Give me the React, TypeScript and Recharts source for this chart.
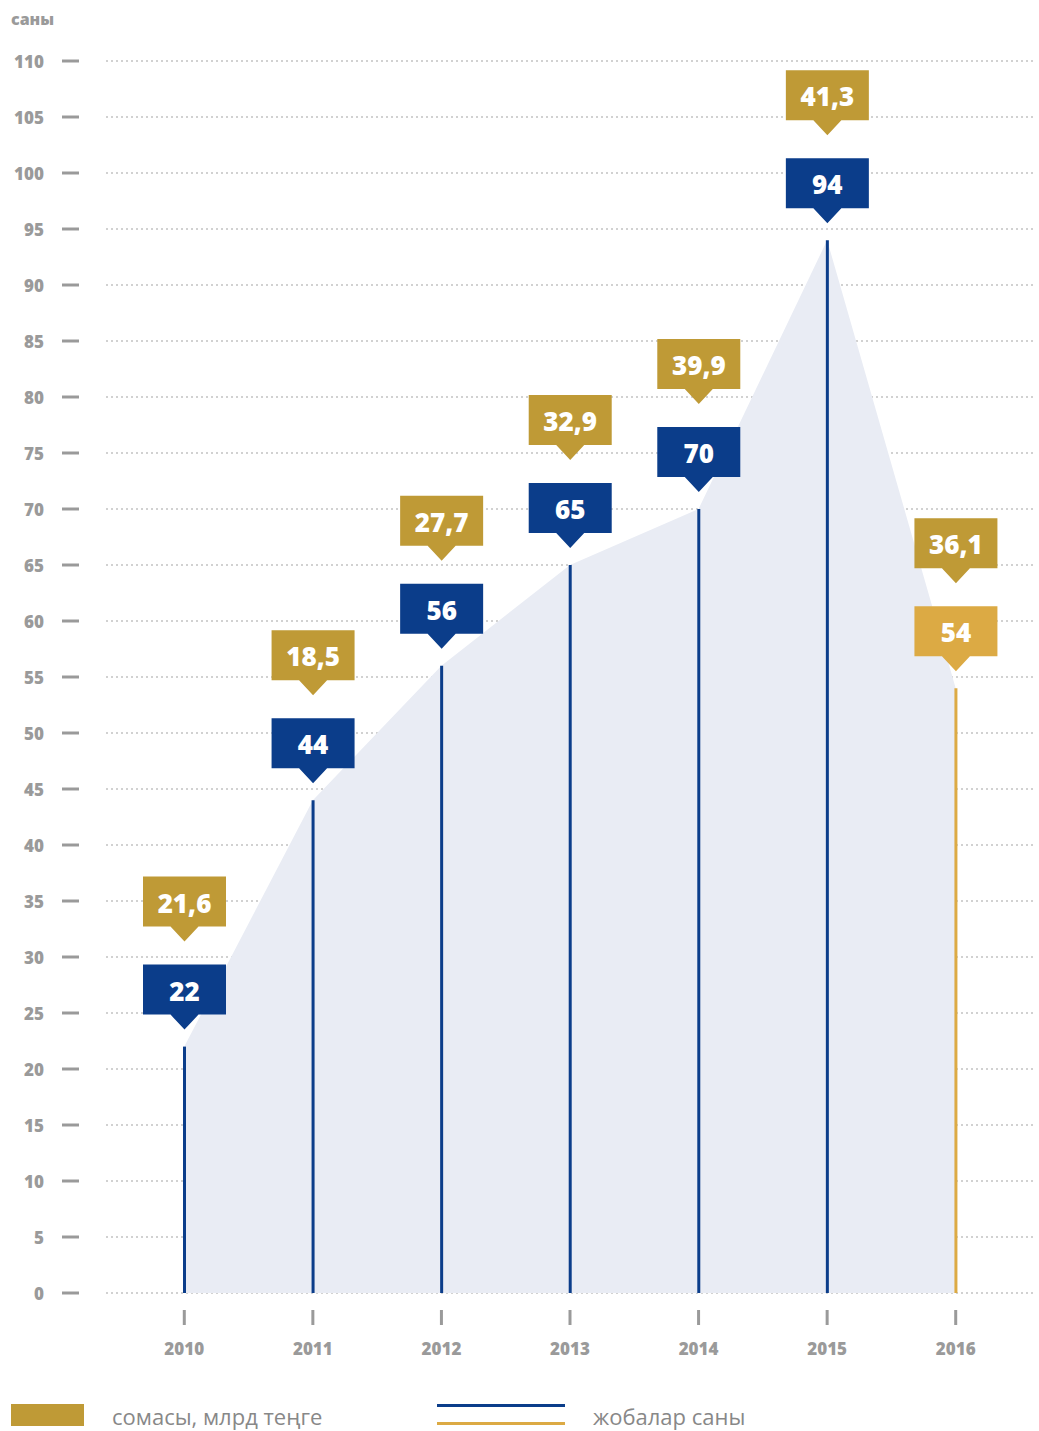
import React from 'react';
import { ComposedChart, Area, Bar, XAxis, YAxis, CartesianGrid, LabelList, Cell } from 'recharts';

const years = ['2010', '2011', '2012', '2013', '2014', '2015', '2016'];
const projects = [22, 44, 56, 65, 70, 94, 54];
const amounts = [21.6, 18.5, 27.7, 32.9, 39.9, 41.3, 36.1];
const yTicks = [0, 5, 10, 15, 20, 25, 30, 35, 40, 45, 50, 55, 60, 65, 70, 75, 80, 85, 90, 95, 100, 105, 110];

const BLUE = '#0b3d8a';
const GOLD = '#bf9a36';
const GOLD_LIGHT = '#dcaa44';
const GRAY = '#9a9a9a';
const FONT = '"Open Sans", sans-serif';
const NARROW = '"Liberation Sans Narrow", "Open Sans", sans-serif';

const data = years.map((y, i) => ({ year: y, projects: projects[i], amount: amounts[i] }));

const fmt = (v: number) => v.toFixed(1).replace('.', ',');

// box with a down-pointing notch, tip at (cx, tipY)
const Flag = ({ cx, tipY, fill, text }: { cx: number; tipY: number; fill: string; text: string }) => {
    const w = 83, h = 50, th = 15, tw = 14;
    const bottom = tipY - th;
    const top = bottom - h;
    const l = cx - w / 2, r = cx + w / 2;
    const pts = `${l},${top} ${r},${top} ${r},${bottom} ${cx + tw},${bottom} ${cx},${tipY} ${cx - tw},${bottom} ${l},${bottom}`;
    return (
        <g>
            <polygon points={pts} fill={fill} />
            <text x={cx} y={top + h / 2 + 1} textAnchor="middle" dominantBaseline="central" fill="#fff"
                style={{ fontFamily: FONT, fontWeight: 800, fontSize: 26 }}>{text}</text>
        </g>
    );
};

const renderFlags = (props: any) => {
    const { x, y, width, index } = props;
    const cx = x + width / 2;
    const last = index === years.length - 1;
    const tip = y - 17;
    return (
        <g>
            <Flag cx={cx} tipY={tip} fill={last ? GOLD_LIGHT : BLUE} text={String(projects[index])} />
            <Flag cx={cx} tipY={tip - 88} fill={GOLD} text={fmt(amounts[index])} />
        </g>
    );
};

const YTick = ({ y, payload }: any) => (
    <g>
        <text x={44} y={y} textAnchor="end" dominantBaseline="central" fill={GRAY}
            style={{ fontFamily: FONT, fontWeight: 800, fontSize: 17 }}>{payload.value}</text>
        <line x1={62} x2={79} y1={y} y2={y} stroke={GRAY} strokeWidth={3} />
    </g>
);

const XTick = ({ x, y, payload }: any) => (
    <g>
        <line x1={x} x2={x} y1={y + 17} y2={y + 32} stroke={GRAY} strokeWidth={3} />
        <text x={x} y={y + 55} textAnchor="middle" dominantBaseline="central" fill={GRAY}
            style={{ fontFamily: FONT, fontWeight: 800, fontSize: 17 }}>{payload.value}</text>
    </g>
);

export default function App() {
    return (
        <div style={{ position: 'absolute', left: 0, top: 0, width: 1039, height: 1431, background: '#fff' }}>
            <div style={{ position: 'absolute', left: 11, top: 8, fontFamily: FONT, fontWeight: 800, fontSize: 16, color: GRAY }}>саны</div>
            <ComposedChart width={1039} height={1380} data={data} margin={{ top: 61, right: 3, left: 0, bottom: 0 }}>
                <CartesianGrid vertical={false} stroke="#c2c2c2" strokeWidth={1.5} strokeDasharray="2 3" />
                <XAxis dataKey="year" height={87} axisLine={false} tickLine={false} tickSize={0} tickMargin={0}
                    padding={{ left: 14, right: 16 }} tick={<XTick />} interval={0} />
                <YAxis width={106} domain={[0, 110]} ticks={yTicks} axisLine={false} tickLine={false}
                    tick={<YTick />} interval={0} />
                <Area type="linear" dataKey="projects" fill="#e9ecf4" fillOpacity={1} stroke="none" isAnimationActive={false} />
                <Bar dataKey="projects" barSize={3} isAnimationActive={false}>
                    {data.map((d, i) => (
                        <Cell key={d.year} fill={i === years.length - 1 ? GOLD_LIGHT : BLUE} />
                    ))}
                    <LabelList dataKey="projects" content={renderFlags} />
                </Bar>
            </ComposedChart>
            <div style={{ position: 'absolute', left: 11, top: 1404, width: 73, height: 22, background: GOLD }} />
            <div style={{ position: 'absolute', left: 112, top: 1401, fontFamily: NARROW, fontSize: 22, color: '#888' }}>сомасы, млрд теңге</div>
            <div style={{ position: 'absolute', left: 437, top: 1404, width: 128, height: 3, background: BLUE }} />
            <div style={{ position: 'absolute', left: 437, top: 1422, width: 128, height: 3, background: GOLD_LIGHT }} />
            <div style={{ position: 'absolute', left: 593, top: 1401, fontFamily: NARROW, fontSize: 22, color: '#888' }}>жобалар саны</div>
        </div>
    );
}
